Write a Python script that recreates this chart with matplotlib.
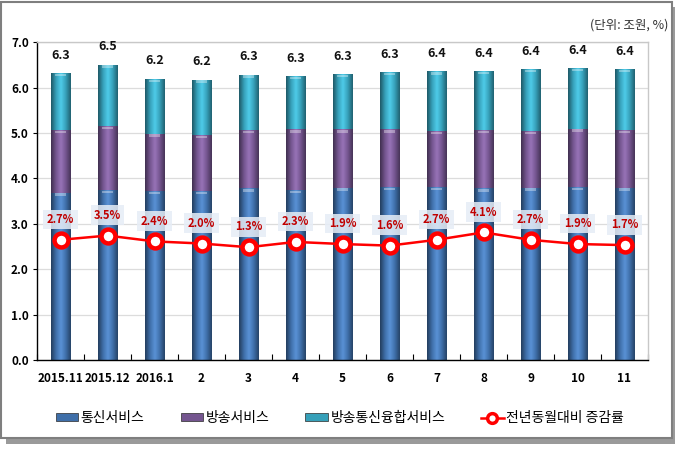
import matplotlib
matplotlib.use("Agg")
import matplotlib.pyplot as plt
import numpy as np
from matplotlib.patches import Rectangle
from matplotlib.colors import LinearSegmentedColormap
from matplotlib.lines import Line2D
from matplotlib.patches import Patch

plt.rcParams['font.family'] = ['Noto Sans CJK KR', 'DejaVu Sans']

categories = ['2015.11', '2015.12', '2016.1', '2', '3', '4', '5', '6', '7', '8', '9', '10', '11']
telecom = [3.69, 3.74, 3.73, 3.73, 3.78, 3.74, 3.80, 3.82, 3.82, 3.78, 3.80, 3.82, 3.80]
broadcast = [1.38, 1.41, 1.26, 1.23, 1.29, 1.34, 1.28, 1.26, 1.23, 1.29, 1.25, 1.28, 1.27]
convergence = [1.26, 1.36, 1.21, 1.22, 1.22, 1.18, 1.23, 1.26, 1.31, 1.30, 1.37, 1.34, 1.35]
growth = [2.7, 3.5, 2.4, 2.0, 1.3, 2.3, 1.9, 1.6, 2.7, 4.1, 2.7, 1.9, 1.7]

series_names = ['통신서비스', '방송서비스', '방송통신융합서비스']
line_name = '전년동월대비 증감률'
unit_text = '(단위: 조원, %)'

colors = ['#3f6fa9', '#74558f', '#36a0b9']

fig = plt.figure(figsize=(6.84, 4.5), dpi=100)

# outer frame with shadow
W, H = 684, 450
shadow = Rectangle((6 / W, 1 - 444 / H), 669 / W, 437 / H, transform=fig.transFigure,
                   facecolor='#9a9a9a', edgecolor='none', zorder=-2)
frame = Rectangle((1 / W, 1 - 438 / H), 671 / W, 436 / H, transform=fig.transFigure,
                  facecolor='white', edgecolor='#7f7f7f', linewidth=1.5, zorder=-1)
fig.patches.extend([shadow, frame])

ax = fig.add_axes([37 / W, 1 - 360 / H, (648 - 37) / W, (360 - 42.3) / H])
ax.set_facecolor('none')

x = np.arange(len(categories))
bw = 0.42
bottoms = np.zeros(len(categories))
all_bars = []
for vals, c in zip([telecom, broadcast, convergence], colors):
    bars = ax.bar(x, vals, bw, bottom=bottoms, color=c, edgecolor='none', zorder=2)
    all_bars.append((bars, c))
    bottoms = bottoms + np.array(vals)

# cylinder shading
def shade_cmap(c):
    base = np.array(matplotlib.colors.to_rgb(c))
    dark = base * 0.55
    light = np.clip(base * 1.18 + 0.06, 0, 1)
    return LinearSegmentedColormap.from_list('s', [dark, base, light, base, dark * 1.1])

grad = np.linspace(0, 1, 64).reshape(1, -1)
for bars, c in all_bars:
    cm = shade_cmap(c)
    for r in bars:
        x0, y0, w, h = r.get_x(), r.get_y(), r.get_width(), r.get_height()
        im = ax.imshow(grad, extent=[x0, x0 + w, y0, y0 + h], cmap=cm, aspect='auto',
                       zorder=2.1, interpolation='bicubic')
        im.set_clip_path(r)
        # top highlight cap
        ax.add_patch(Rectangle((x0 + w * 0.2, y0 + h - 0.07), w * 0.6, 0.05,
                               facecolor='white', alpha=0.35, edgecolor='none', zorder=2.2))

# totals
for xi, tot in zip(x, bottoms):
    ax.annotate(f'{tot:.1f}', (xi, tot), xytext=(0, 8), textcoords='offset points',
                ha='center', va='bottom', fontsize=9, fontweight='bold', color='#111111')

ax.set_xlim(-0.5, len(categories) - 0.5)
ax.set_ylim(0, 7)
ax.set_yticks(np.arange(0, 7.01, 1.0))
ax.set_yticklabels([f'{v:.1f}' for v in np.arange(0, 7.01, 1.0)], fontsize=8.5, fontweight='bold')
ax.yaxis.grid(True, color='#dcdcdc', linewidth=0.9, zorder=0)
ax.set_axisbelow(True)
ax.tick_params(axis='y', direction='out', length=3, pad=3, color='black')

ax.set_xticks(np.arange(-0.5, len(categories), 1.0))
ax.set_xticklabels([])
ax.tick_params(axis='x', which='major', direction='in', length=4, color='black')
ax.set_xticks(x, minor=True)
ax.set_xticklabels(categories, minor=True, fontsize=8.5, fontweight='bold')
ax.tick_params(axis='x', which='minor', length=0, pad=9)

for s in ['left', 'bottom']:
    ax.spines[s].set_color('black')
    ax.spines[s].set_linewidth(1.0)
for s in ['top', 'right']:
    ax.spines[s].set_color('#c8c8c8')
    ax.spines[s].set_linewidth(1.0)

# secondary axis for growth
ax2 = ax.twinx()
ax2.set_ylim(-20, 40)
ax2.set_yticks([])
for s in ax2.spines.values():
    s.set_visible(False)
ax2.plot(x, growth, color='#ff0000', linewidth=1.8, marker='o', markersize=10,
         markerfacecolor='white', markeredgecolor='#ff0000', markeredgewidth=3.2, zorder=5)
for xi, g in zip(x, growth):
    ax2.annotate(f'{g:.1f}%', (xi, g), xytext=(0, 10), textcoords='offset points',
                 ha='center', va='bottom', fontsize=8, fontweight='bold', color='#c00000',
                 bbox=dict(boxstyle='square,pad=0.3', facecolor='#e6edf6', edgecolor='none', alpha=0.85),
                 zorder=6)

# unit text
fig.text(668 / W, 1 - 25 / H, unit_text, ha='right', va='center', fontsize=9, color='#333333')

# legend
handles = [Patch(facecolor=c, edgecolor='#2a2a2a', linewidth=0.5) for c in colors]
handles.append(Line2D([0], [0], color='#ff0000', linewidth=1.8, marker='o', markersize=7,
                      markerfacecolor='white', markeredgecolor='#ff0000', markeredgewidth=2.5))
leg = fig.legend(handles, series_names + [line_name], loc='center', bbox_to_anchor=(340 / W, 1 - 418 / H),
                 ncol=4, frameon=False, fontsize=10, handlelength=1.6, handleheight=0.5,
                 handletextpad=0.2, columnspacing=2.6)

fig.savefig('out.png', dpi=100)
